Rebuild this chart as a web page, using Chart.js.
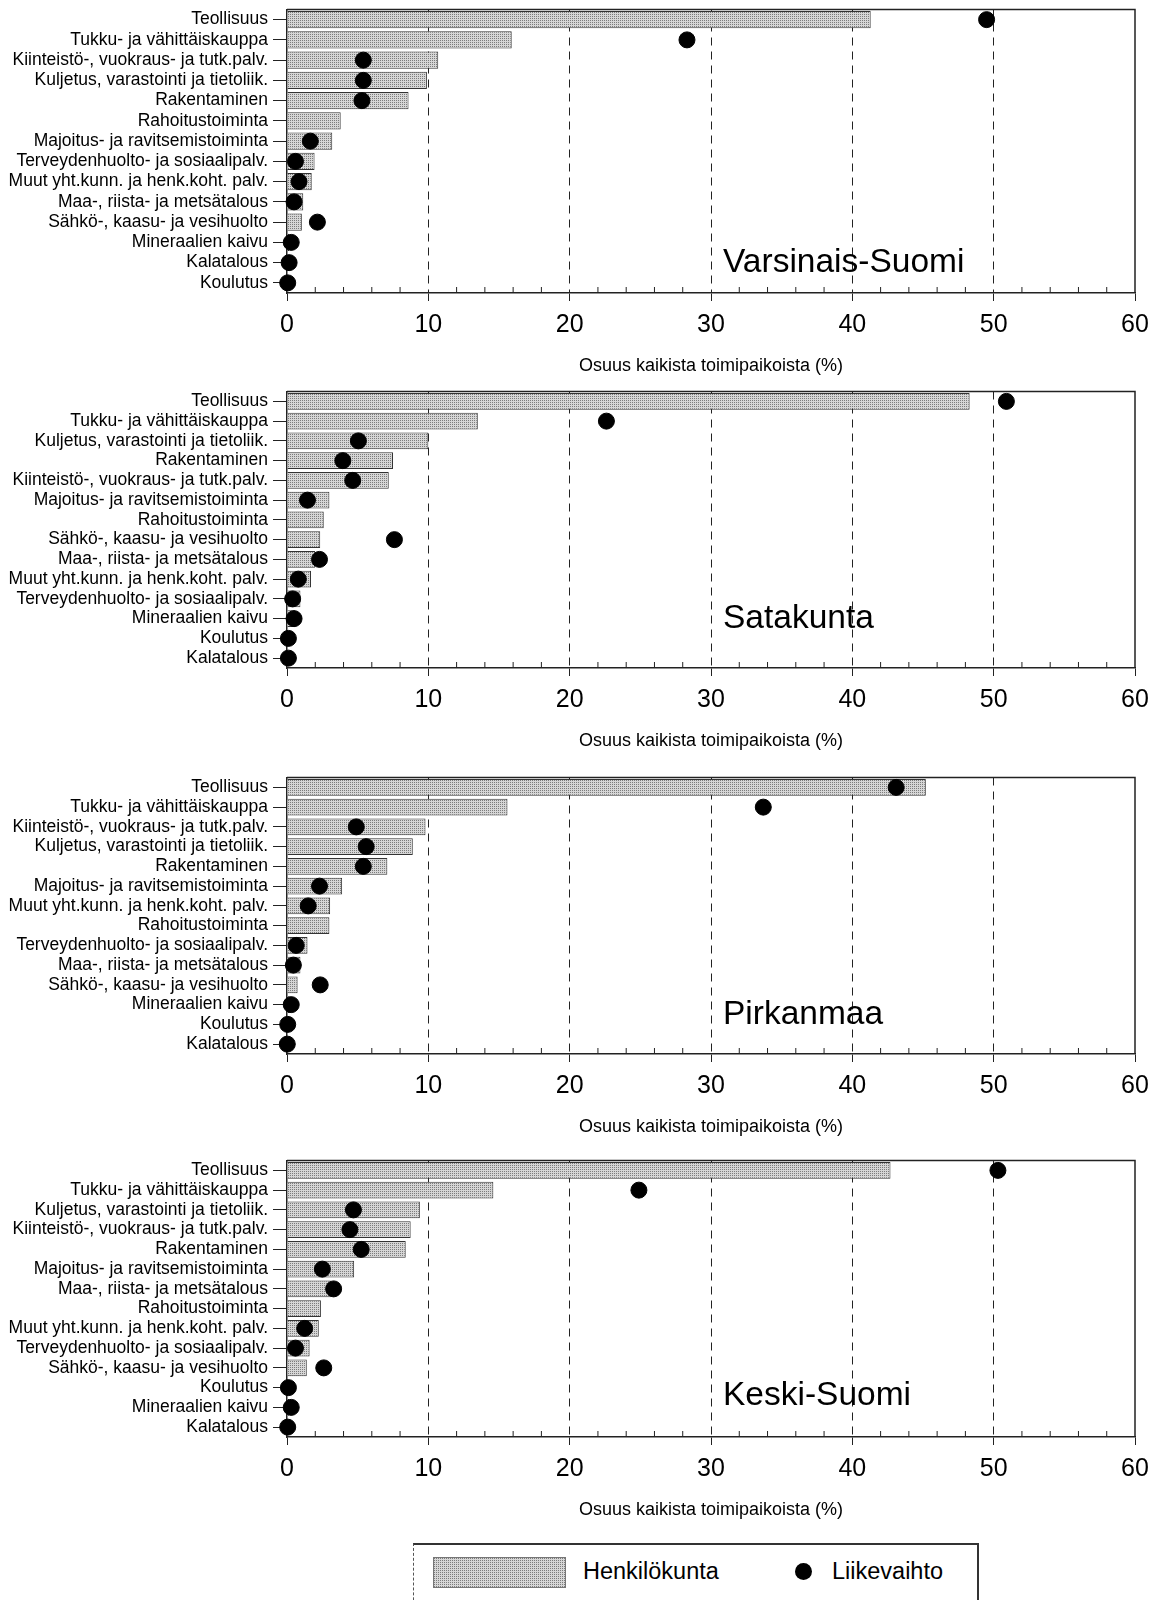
<!DOCTYPE html>
<html>
<head>
<meta charset="utf-8">
<script src="https://cdn.jsdelivr.net/npm/chart.js@4.4.0/dist/chart.umd.min.js"></script>
<style>
  body { margin: 0; background: #fff; width: 1158px; height: 1600px; position: relative; overflow: hidden;
         font-family: "Liberation Sans", Arial, Helvetica, sans-serif; color: #111; }
  canvas.panel { position: absolute; left: 0; }
  #legend { position: absolute; left: 413px; top: 1543px; width: 563px; height: 80px;
            border-top: 2px solid #333; border-right: 2px solid #333; border-left: 1px dashed #555; }
  #legend .swatch { position: absolute; left: 19px; top: 12px; width: 131px; height: 29px; border: 1px solid #777; }
  #legend .txt { position: absolute; top: 11px; font-size: 23.5px; line-height: 30px; color: #000; }
  #legend .dot { position: absolute; left: 381px; top: 18px; width: 17px; height: 17px; border-radius: 50%; background: #000; }
</style>
</head>
<body>
<canvas class="panel" id="chart-0"></canvas>
<canvas class="panel" id="chart-1"></canvas>
<canvas class="panel" id="chart-2"></canvas>
<canvas class="panel" id="chart-3"></canvas>
<div id="legend">
  <div class="swatch" id="swatch"></div>
  <div class="txt" style="left:169px">Henkilökunta</div>
  <div class="dot"></div>
  <div class="txt" style="left:418px">Liikevaihto</div>
</div>
<script>
// --- data ---
const regions = ['Varsinais-Suomi', 'Satakunta', 'Pirkanmaa', 'Keski-Suomi'];
const seriesNames = ['Henkilökunta', 'Liikevaihto'];
const xTicks = [0, 10, 20, 30, 40, 50, 60];
const axisTitle = 'Osuus kaikista toimipaikoista (%)';

const vsCategories = ['Teollisuus', 'Tukku- ja vähittäiskauppa', 'Kiinteistö-, vuokraus- ja tutk.palv.',
  'Kuljetus, varastointi ja tietoliik.', 'Rakentaminen', 'Rahoitustoiminta', 'Majoitus- ja ravitsemistoiminta',
  'Terveydenhuolto- ja sosiaalipalv.', 'Muut yht.kunn. ja henk.koht. palv.', 'Maa-, riista- ja metsätalous',
  'Sähkö-, kaasu- ja vesihuolto', 'Mineraalien kaivu', 'Kalatalous', 'Koulutus'];
const vsStaff = [41.3, 15.9, 10.7, 9.9, 8.6, 3.8, 3.2, 1.95, 1.75, 1.15, 1.05, 0.15, 0.05, 0.1];
const vsTurnover = [49.5, 28.3, 5.4, 5.4, 5.3, null, 1.65, 0.6, 0.85, 0.5, 2.15, 0.3, 0.15, 0.05];

const saCategories = ['Teollisuus', 'Tukku- ja vähittäiskauppa', 'Kuljetus, varastointi ja tietoliik.',
  'Rakentaminen', 'Kiinteistö-, vuokraus- ja tutk.palv.', 'Majoitus- ja ravitsemistoiminta', 'Rahoitustoiminta',
  'Sähkö-, kaasu- ja vesihuolto', 'Maa-, riista- ja metsätalous', 'Muut yht.kunn. ja henk.koht. palv.',
  'Terveydenhuolto- ja sosiaalipalv.', 'Mineraalien kaivu', 'Koulutus', 'Kalatalous'];
const saStaff = [48.3, 13.5, 10.0, 7.5, 7.2, 3.0, 2.6, 2.35, 2.0, 1.7, 0.95, 0.6, 0.1, 0.05];
const saTurnover = [50.9, 22.6, 5.05, 3.95, 4.65, 1.45, null, 7.6, 2.3, 0.8, 0.4, 0.5, 0.1, 0.1];

const piCategories = ['Teollisuus', 'Tukku- ja vähittäiskauppa', 'Kiinteistö-, vuokraus- ja tutk.palv.',
  'Kuljetus, varastointi ja tietoliik.', 'Rakentaminen', 'Majoitus- ja ravitsemistoiminta',
  'Muut yht.kunn. ja henk.koht. palv.', 'Rahoitustoiminta', 'Terveydenhuolto- ja sosiaalipalv.',
  'Maa-, riista- ja metsätalous', 'Sähkö-, kaasu- ja vesihuolto', 'Mineraalien kaivu', 'Koulutus', 'Kalatalous'];
const piStaff = [45.2, 15.6, 9.8, 8.9, 7.1, 3.9, 3.05, 3.0, 1.45, 0.95, 0.75, 0.2, 0.1, 0.05];
const piTurnover = [43.1, 33.7, 4.9, 5.6, 5.4, 2.3, 1.5, null, 0.65, 0.45, 2.35, 0.3, 0.05, 0.02];

const ksCategories = ['Teollisuus', 'Tukku- ja vähittäiskauppa', 'Kuljetus, varastointi ja tietoliik.',
  'Kiinteistö-, vuokraus- ja tutk.palv.', 'Rakentaminen', 'Majoitus- ja ravitsemistoiminta',
  'Maa-, riista- ja metsätalous', 'Rahoitustoiminta', 'Muut yht.kunn. ja henk.koht. palv.',
  'Terveydenhuolto- ja sosiaalipalv.', 'Sähkö-, kaasu- ja vesihuolto', 'Koulutus', 'Mineraalien kaivu', 'Kalatalous'];
const ksStaff = [42.7, 14.6, 9.4, 8.75, 8.4, 4.75, 3.1, 2.4, 2.25, 1.6, 1.4, 0.1, 0.15, 0.05];
const ksTurnover = [50.3, 24.9, 4.7, 4.45, 5.25, 2.5, 3.3, null, 1.25, 0.6, 2.6, 0.1, 0.3, 0.05];

// --- layout ---
const panelTops = [-6, 376, 762, 1145];
const plotHeights = [291, 284, 284, 284];
const axisBelow = 88;
const labelRows = [12.0, 11.0, 11.5, 11.4];   // where the region name sits (category index)
const font = '"Liberation Sans", Arial, Helvetica, sans-serif';

function stipple() {
    const c = document.createElement('canvas');
    c.width = 2; c.height = 2;
    const g = c.getContext('2d');
    g.fillStyle = '#d6d6d6';
    g.fillRect(0, 0, 2, 2);
    g.fillStyle = '#7c7c7c';
    g.fillRect(0, 0, 1, 1);
    return c;
}
const tile = stipple();
document.getElementById('swatch').style.background = `url(${tile.toDataURL()})`;

// frame on top/right, small ticks every 2 %, region name
const panelDecor = {
    id: 'panelDecor',
    afterDatasetsDraw(chart, args, opts) {
        const {ctx, chartArea: a, scales: {x, y}} = chart;
        ctx.save();
        ctx.strokeStyle = '#222';
        ctx.lineWidth = 1.5;
        ctx.beginPath();
        ctx.moveTo(a.left, a.top);
        ctx.lineTo(a.right, a.top);
        ctx.lineTo(a.right, a.bottom);
        ctx.stroke();
        ctx.lineWidth = 1;
        for (let v = 2; v < 60; v += 2) {
            if (v % 10 === 0) continue;
            const px = x.getPixelForValue(v);
            ctx.beginPath();
            ctx.moveTo(px, a.bottom);
            ctx.lineTo(px, a.bottom - 6);
            ctx.stroke();
        }
        ctx.fillStyle = '#000';
        ctx.font = `33.5px ${font}`;
        ctx.textAlign = 'left';
        ctx.textBaseline = 'middle';
        ctx.fillText(opts.text, x.getPixelForValue(30.85), y.getPixelForValue(opts.row));
        ctx.restore();
    }
};

function panel(i, categories, staff, turnover) {
    const canvas = document.getElementById(`chart-${i}`);
    canvas.width = 1158;
    canvas.height = 8 + plotHeights[i] + axisBelow;
    canvas.style.top = panelTops[i] + 'px';
    const pattern = canvas.getContext('2d').createPattern(tile, 'repeat');

    return new Chart(canvas, {
        type: 'bar',
        data: {
            labels: categories,
            datasets: [{
                type: 'line',
                label: seriesNames[1],
                data: turnover,
                indexAxis: 'y',
                showLine: false,
                pointRadius: 8,
                pointBackgroundColor: '#000',
                pointBorderColor: '#000',
                clip: false,
                order: 1
            }, {
                type: 'bar',
                label: seriesNames[0],
                data: staff,
                indexAxis: 'y',
                backgroundColor: pattern,
                borderColor: '#333',
                borderWidth: 1,
                barPercentage: 0.86,
                categoryPercentage: 1,
                order: 2
            }]
        },
        options: {
            indexAxis: 'y',
            responsive: false,
            animation: false,
            layout: { padding: { top: 8, right: 23, left: 0, bottom: 0 } },
            plugins: {
                legend: { display: false },
                tooltip: { enabled: false },
                panelDecor: { text: regions[i], row: labelRows[i] }
            },
            scales: {
                x: {
                    type: 'linear',
                    min: xTicks[0],
                    max: xTicks[xTicks.length - 1],
                    afterFit: s => { s.height = axisBelow; },
                    afterBuildTicks: s => { s.ticks = xTicks.map(v => ({ value: v })); },
                    ticks: { color: '#000', font: { family: font, size: 25 }, padding: 9, maxRotation: 0 },
                    grid: {
                        color: c => (c.tick && c.tick.value > 0 && c.tick.value < 60) ? '#222' : 'rgba(0,0,0,0)',
                        tickColor: '#222',
                        tickLength: 8,
                        lineWidth: 1
                    },
                    border: { display: true, color: '#222', width: 1.5, dash: [8, 6] },
                    title: { display: true, text: axisTitle, color: '#000',
                             font: { family: font, size: 18 }, padding: { top: 0, bottom: 4 } }
                },
                y: {
                    type: 'category',
                    offset: true,
                    afterFit: s => { s.width = 287; },
                    ticks: { color: '#000', font: { family: font, size: 17.5 }, padding: 5, autoSkip: false },
                    grid: { drawOnChartArea: false, offset: false, tickLength: 14, color: '#222', tickColor: '#222' },
                    border: { display: true, color: '#222', width: 1.5 }
                }
            }
        },
        plugins: [panelDecor]
    });
}

panel(0, vsCategories, vsStaff, vsTurnover);
panel(1, saCategories, saStaff, saTurnover);
panel(2, piCategories, piStaff, piTurnover);
panel(3, ksCategories, ksStaff, ksTurnover);
</script>
</body>
</html>
